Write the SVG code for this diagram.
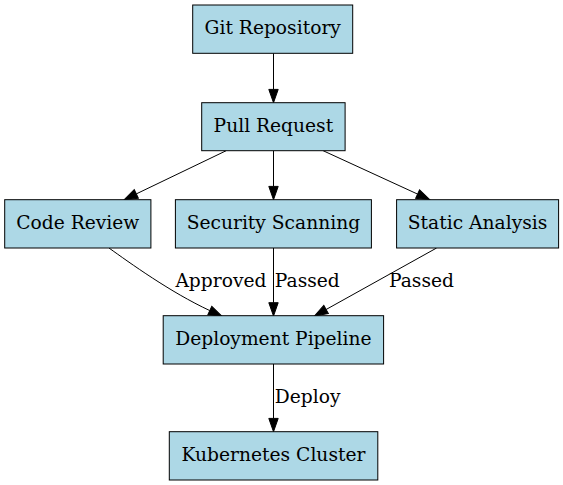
<svg xmlns="http://www.w3.org/2000/svg" width="563" height="485" viewBox="0 0 563 485">
<style>
  .node rect { fill: #add8e6; stroke: #000000; stroke-width: 1; }
  .node text, .label { font-family: "DejaVu Serif", "Liberation Serif", serif; font-size: 18.67px; fill: #000000; }
  .node text { text-anchor: middle; }
  .edge { fill: none; stroke: #000000; stroke-width: 1; marker-end: url(#arrow); }
</style>
<defs>
  <marker id="arrow" markerUnits="userSpaceOnUse" viewBox="0 0 13.3 9.4" markerWidth="13.3" markerHeight="9.4" refX="0" refY="4.7" orient="auto" overflow="visible">
    <path d="M0,0 L13.3,4.7 L0,9.4 Z" fill="#000000" stroke="#000000" stroke-width="1"/>
  </marker>
</defs>
<rect width="563" height="485" fill="#ffffff"/>
<g id="connectors">
  <path class="edge" d="M273.5,53.3 L273.5,89.4"/>
  <path class="edge" d="M226.2,150.7 L136.3,193.9"/>
  <path class="edge" d="M273.5,150.7 L273.5,186.4"/>
  <path class="edge" d="M323.1,150.7 L417.6,194.1"/>
  <path class="edge" d="M109,248 C130,263 170,292 209.8,310.6"/>
  <path class="edge" d="M273.5,248 L273.5,302.7"/>
  <path class="edge" d="M436.6,248 L326.1,309.5"/>
  <path class="edge" d="M273.5,364 L273.5,418.4"/>
  <text class="label" x="175.4" y="286.7">Approved</text>
  <text class="label" x="274.8" y="286.7">Passed</text>
  <text class="label" x="389" y="286.7">Passed</text>
  <text class="label" x="274.8" y="403.3">Deploy</text>
</g>
<g id="git-repository" class="node">
  <rect x="192.7" y="5" width="160" height="48.3"/>
  <text x="272.7" y="34.3">Git Repository</text>
</g>
<g id="pull-request" class="node">
  <rect x="201.7" y="102.7" width="143.4" height="48"/>
  <text x="273.4" y="132.3">Pull Request</text>
</g>
<g id="code-review" class="node">
  <rect x="4.7" y="199.7" width="146.2" height="48.3"/>
  <text x="77.8" y="229.3">Code Review</text>
</g>
<g id="security-scanning" class="node">
  <rect x="175.4" y="199.7" width="196" height="48.3"/>
  <text x="273.4" y="229.3">Security Scanning</text>
</g>
<g id="static-analysis" class="node">
  <rect x="396.6" y="199.7" width="162" height="48.3"/>
  <text x="477.6" y="229.3">Static Analysis</text>
</g>
<g id="deployment-pipeline" class="node">
  <rect x="163.2" y="315.7" width="220.4" height="48.3"/>
  <text x="273.4" y="345.3">Deployment Pipeline</text>
</g>
<g id="kubernetes-cluster" class="node">
  <rect x="169.3" y="431.7" width="208.5" height="48.3"/>
  <text x="273.5" y="461">Kubernetes Cluster</text>
</g>
</svg>
